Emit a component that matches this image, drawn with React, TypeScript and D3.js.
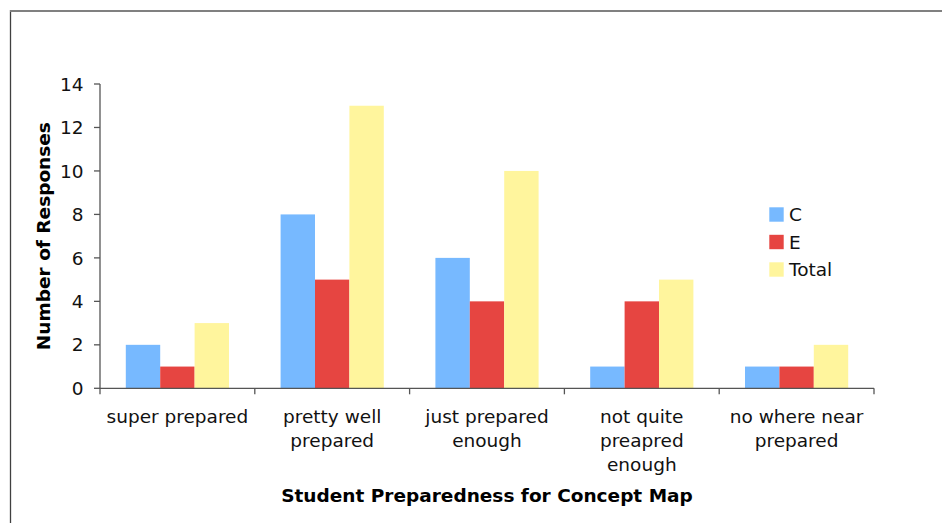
import React from "react";
import * as d3 from "d3";

const categories = [
  ["super prepared"],
  ["pretty well", "prepared"],
  ["just prepared", "enough"],
  ["not quite", "preapred", "enough"],
  ["no where near", "prepared"],
];
const seriesNames = ["C", "E", "Total"];
const seriesC = [2, 8, 6, 1, 1];
const seriesE = [1, 5, 4, 4, 1];
const seriesTotal = [3, 13, 10, 5, 2];
const colors = ["#77B9FF", "#E64541", "#FFF59D"];
const yTicks = [0, 2, 4, 6, 8, 10, 12, 14];

const FONT = "Verdana, 'DejaVu Sans', sans-serif";
const FS = 18.5;

export default function App() {
  const W = 942, H = 523;
  const x0 = 100, x1 = 874, yTop = 84, yBot = 388.3;
  const keys = categories.map((_, i) => String(i));
  const x = d3.scaleBand().domain(keys).range([x0, x1]).paddingInner(0).paddingOuter(0);
  const y = d3.scaleLinear().domain([0, 14]).range([yBot, yTop]);
  const bw = x.bandwidth();
  const groupW = bw / 1.5;
  const xs = d3.scaleBand().domain(seriesNames).range([0, groupW]).padding(0);
  const series = [seriesC, seriesE, seriesTotal];
  const axisColor = "#555";

  return (
    <svg width={W} height={H} style={{ position: "absolute", left: 0, top: 0 }} fontFamily={FONT}>
      <rect x={0} y={0} width={W} height={H} fill="#fff" />
      <line x1={10.5} x2={10.5} y1={10} y2={H} stroke="#404040" strokeWidth={1.3} />
      <line x1={10} x2={W} y1={11} y2={11} stroke="#808080" strokeWidth={2} />
      {series.map((vals, si) =>
        vals.map((v, ci) => {
          const bx = (x(String(ci)) as number) + (bw - groupW) / 2 + (xs(seriesNames[si]) as number);
          return (
            <rect key={si + "-" + ci} x={bx} y={y(v)} width={xs.bandwidth()} height={yBot - y(v)} fill={colors[si]} />
          );
        })
      )}
      {/* y axis */}
      <line x1={x0} x2={x0} y1={yTop} y2={yBot} stroke={axisColor} strokeWidth={1.3} />
      {yTicks.map((t) => (
        <g key={t}>
          <line x1={x0 - 6} x2={x0} y1={y(t)} y2={y(t)} stroke={axisColor} strokeWidth={1.3} />
          <text x={x0 - 16.5} y={y(t)} dy="0.36em" textAnchor="end" fontSize={FS} fill="#111">
            {t}
          </text>
        </g>
      ))}
      {/* x axis */}
      <line x1={x0} x2={x1} y1={yBot} y2={yBot} stroke={axisColor} strokeWidth={1.3} />
      {[...keys.map((k) => x(k) as number), x1].map((px, i) => (
        <line key={i} x1={px} x2={px} y1={yBot} y2={yBot + 6} stroke={axisColor} strokeWidth={1.3} />
      ))}
      {categories.map((lines, ci) => (
        <text key={ci} textAnchor="middle" fontSize={FS} fill="#111">
          {lines.map((ln, li) => (
            <tspan key={li} x={(x(String(ci)) as number) + bw / 2} y={423 + li * 24}>
              {ln}
            </tspan>
          ))}
        </text>
      ))}
      <text x={(x0 + x1) / 2} y={501.5} textAnchor="middle" fontSize={FS} fontWeight="bold" fill="#000">
        Student Preparedness for Concept Map
      </text>
      <text
        transform={`translate(49.5,${(yTop + yBot) / 2}) rotate(-90)`}
        textAnchor="middle"
        fontSize={FS}
        fontWeight="bold"
        fill="#000"
      >
        Number of Responses
      </text>
      {/* legend */}
      {seriesNames.map((n, i) => (
        <g key={n}>
          <rect x={769.3} y={207.3 + i * 27.5} width={14.4} height={14.4} fill={colors[i]} />
          <text x={789} y={214.5 + i * 27.5} dy="0.36em" fontSize={FS} fill="#111">
            {n}
          </text>
        </g>
      ))}
    </svg>
  );
}
